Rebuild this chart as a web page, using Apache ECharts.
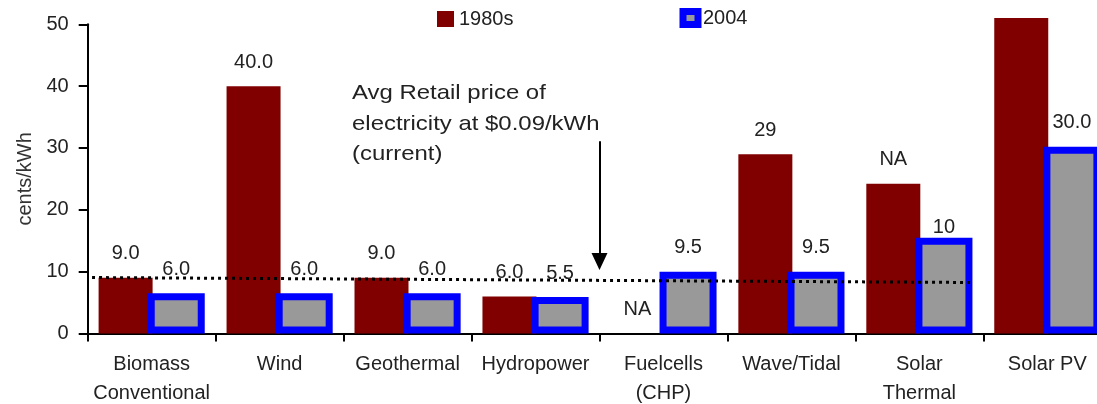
<!DOCTYPE html>
<html>
<head>
<meta charset="utf-8">
<script src="https://cdn.jsdelivr.net/npm/echarts@6/dist/echarts.min.js"></script>
<style>
html,body{margin:0;padding:0;background:#fff;}
#chart{width:1097px;height:404px;}
</style>
</head>
<body>
<div id="chart"></div>
<script>
const categories = ['Biomass\nConventional', 'Wind', 'Geothermal', 'Hydropower', 'Fuelcells\n(CHP)', 'Wave/Tidal', 'Solar\nThermal', 'Solar PV'];
const values1980s = [9, 40, 9, 6, 0, 29, 24.2, 51];
const labels1980s = ['9.0', '40.0', '9.0', '6.0', 'NA', '29', 'NA', ''];
const values2004 = [6.5, 6.5, 6.5, 5.9, 10, 10, 15.5, 30.2];
const labels2004 = ['6.0', '6.0', '6.0', '5.5', '9.5', '9.5', '10', '30.0'];
const yTicks = [0, 10, 20, 30, 40, 50];
const priceLineX = [0.034, 6.906];
const priceLineY = [9.05, 8.25];
const arrowX = 4;
const arrowFromY = 31.1;
const arrowToY = 11.65;
const annotationLines = ['Avg Retail price of', 'electricity at $0.09/kWh', '(current)'];

const FONT = '"Liberation Sans", Arial, sans-serif';
const TXT = '#222';
const FS = 20;

const chart = echarts.init(document.getElementById('chart'), null, {renderer: 'canvas'});

const option = {
  animation: false,
  backgroundColor: '#fff',
  textStyle: {fontFamily: FONT},
  grid: {left: 87.7, right: -14.3, top: 24.3, bottom: 70.5, outerBoundsMode: 'none', containLabel: false},
  legend: [
    {
      data: ['1980s'], left: 437, top: 9, padding: 0, icon: 'rect',
      itemWidth: 17, itemHeight: 16, itemGap: 0,
      textStyle: {fontSize: FS, color: TXT, fontFamily: FONT}, selectedMode: false
    },
    {
      data: [{name: '2004', icon: 'rect', itemStyle: {color: '#999999', borderColor: '#0000ff', borderWidth: 7}}],
      left: 679.5, top: 8, padding: 0, icon: 'rect',
      itemWidth: 15, itemHeight: 13, itemGap: 0,
      textStyle: {fontSize: FS, color: TXT, fontFamily: FONT}, selectedMode: false
    }
  ],
  xAxis: [
    {
      type: 'category',
      data: categories,
      axisLine: {show: true, lineStyle: {color: '#000', width: 2}},
      axisTick: {show: true, length: 8, lineStyle: {color: '#000', width: 2}},
      axisLabel: {color: TXT, fontSize: FS, lineHeight: 29, margin: 16.5, interval: 0, fontFamily: FONT},
      splitLine: {show: false}
    },
    {
      type: 'value', min: 0, max: 8, show: false
    }
  ],
  yAxis: {
    type: 'value',
    min: yTicks[0], max: yTicks[yTicks.length - 1], interval: 10,
    name: 'cents/kWh', nameLocation: 'middle', nameGap: 52, nameRotate: 90,
    nameTextStyle: {color: '#333', fontSize: FS, fontFamily: FONT},
    axisLine: {show: true, lineStyle: {color: '#000', width: 2}},
    axisTick: {show: true, length: 9, lineStyle: {color: '#000', width: 2}},
    axisLabel: {color: TXT, fontSize: FS, margin: 19, fontFamily: FONT},
    splitLine: {show: false}
  },
  graphic: [
    {
      type: 'text', x: 352, y: 78, scaleX: 1.14, z: 100,
      style: {
        text: annotationLines.join('\n'), fontSize: 21, lineHeight: 30.5,
        fontFamily: FONT, fill: TXT, textAlign: 'left', textVerticalAlign: 'top'
      }
    }
  ],
  series: [
    {
      name: '1980s', type: 'bar', barWidth: 54, barGap: '-9%', clip: false,
      itemStyle: {color: '#800000'},
      label: {
        show: true, position: 'top', distance: 14, color: TXT, fontSize: FS, fontFamily: FONT,
        formatter: p => labels1980s[p.dataIndex]
      },
      data: values1980s
    },
    {
      name: '2004', type: 'bar', barWidth: 57, clip: false,
      itemStyle: {color: '#999999', borderColor: '#0000ff', borderWidth: 7},
      label: {
        show: true, position: 'top', distance: 14, color: TXT, fontSize: FS, fontFamily: FONT,
        formatter: p => labels2004[p.dataIndex]
      },
      data: values2004.map((v, i) => labels2004[i] === '10' ? {value: v, label: {distance: 0}} : v)
    },
    {
      name: 'price', type: 'line', xAxisIndex: 1, z: 10, symbol: 'none', silent: true,
      lineStyle: {color: '#000', width: 3, type: [3, 4]},
      data: priceLineX.map((x, i) => [x, priceLineY[i]]),
      markLine: {
        silent: true, symbol: ['none', 'triangle'], symbolSize: [16, 17],
        label: {show: false},
        lineStyle: {color: '#000', width: 2, type: 'solid'},
        data: [[{coord: [arrowX, arrowFromY]}, {coord: [arrowX, arrowToY]}]]
      }
    }
  ]
};
chart.setOption(option);
</script>
</body>
</html>
